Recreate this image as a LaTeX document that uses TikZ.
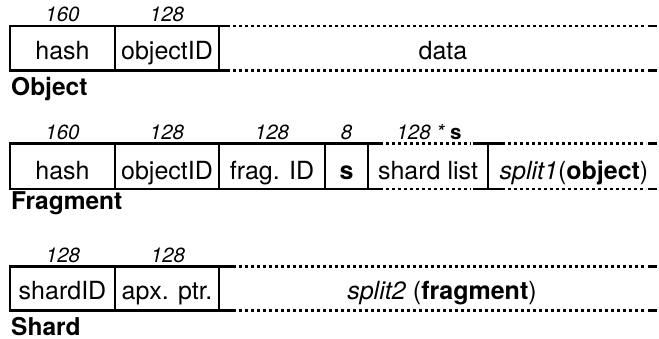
\documentclass[tikz,border=0pt]{standalone}
\usepackage{fontspec}
\setmainfont{TeX Gyre Heros}
\begin{document}
\begin{tikzpicture}[x=1pt,y=-1pt,
  rule/.style={line width=2.6pt, line join=miter, line cap=butt},
  dots/.style={rule, dash pattern=on 2.6pt off 3.4pt},
  cell/.style={anchor=base, inner sep=0pt, font=\fontsize{25}{29}\selectfont},
  bits/.style={anchor=base, inner sep=0pt, font=\fontsize{20.5}{24}\selectfont\itshape},
  rowname/.style={anchor=base west, inner sep=0pt, font=\fontsize{24.5}{28}\selectfont\bfseries}]
\useasboundingbox (0,0) rectangle (659,339);

% ---------- Object ----------
\draw[rule] (230,26) -- (10,26) -- (10,70.5) -- (230,70.5);
\draw[rule] (115,26) -- (115,70.5) (219,26) -- (219,70.5);
\draw[dots] (233,26) -- (646,26) (233,70.5) -- (646,70.5);
\draw[rule] (648,26) -- (657,26) (648,70.5) -- (657,70.5);

\node[bits] (o160) at (62.5,21.5) {160};
\node[bits] (o128) at (167,21.5) {128};
\node[cell] (ohash) at (62.5,59.5) {hash};
\node[cell] (oid) at (167,59.5) {objectID};
\node[cell] (odata) at (443,59.5) {data};
\node[rowname] (olabel) at (11,96) {Object};

% ---------- Fragment ----------
\draw[rule] (383,143.5) -- (10,143.5) -- (10,189) -- (383,189);
\draw[rule] (115,143.5) -- (115,189) (219,143.5) -- (219,189)
            (325,143.5) -- (325,189) (368,143.5) -- (368,189);
\draw[dots] (386,143.5) -- (471,143.5) (386,189) -- (471,189);
\draw[rule] (473,143.5) -- (505,143.5) (473,189) -- (505,189)
            (488,143.5) -- (488,189);
\draw[dots] (508,143.5) -- (646,143.5) (508,189) -- (646,189);
\draw[rule] (648,143.5) -- (657,143.5) (648,189) -- (657,189);

\node[bits] (f160) at (62.5,139.5) {160};
\node[bits] (f128a) at (167,139.5) {128};
\node[bits] (f128b) at (272,139.5) {128};
\node[bits] (f8) at (346.5,139.5) {8};
\node[bits] (f128s) at (429,139.5) {128 * \textbf{\upshape s}};
\node[cell] (fhash) at (62.5,179.5) {hash};
\node[cell] (foid) at (167,179.5) {objectID};
\node[cell] (ffid) at (272,179.5) {frag. ID};
\node[cell] (fs) at (346.5,179.5) {\textbf{s}};
\node[cell] (flist) at (428,179.5) {shard list};
\node[cell] (fsplit) at (574,179.5) {\textit{split1}(\textbf{object})};
\node[rowname] (flabel) at (11,210) {Fragment};

% ---------- Shard ----------
\draw[rule] (236,266.5) -- (10,266.5) -- (10,310.5) -- (236,310.5);
\draw[rule] (115,266.5) -- (115,310.5) (219,266.5) -- (219,310.5);
\draw[dots] (239,266.5) -- (646,266.5) (239,310.5) -- (646,310.5);
\draw[rule] (648,266.5) -- (657,266.5) (648,310.5) -- (657,310.5);

\node[bits] (s128a) at (63,263) {128};
\node[bits] (s128b) at (168,263) {128};
\node[cell] (sid) at (62.5,300) {shardID};
\node[cell] (sptr) at (167,300) {apx. ptr.};
\node[cell] (ssplit) at (442,300) {\textit{split2} (\textbf{fragment})};
\node[rowname] (slabel) at (11,335) {Shard};
\end{tikzpicture}
\end{document}
